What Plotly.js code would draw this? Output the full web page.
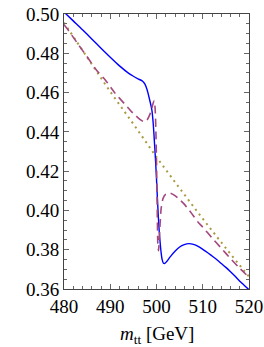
<!DOCTYPE html>
<html>
<head>
<meta charset="utf-8">
<script src="https://cdn.plot.ly/plotly-3.0.1.min.js"></script>
<style>html,body{margin:0;padding:0;background:#fff;}#chart{width:264px;height:347px;}</style>
</head>
<body>
<div id="chart"></div>
<script>
// Solid blue curve
var solidX = [480,482,484,486,488,490,492,494,495,496,497,497.5,498,498.5,499,499.3,499.6,499.8,500,500.2,500.4,500.6,500.8,501,501.2,501.5,501.8,502.2,503,504,505,506,507,508,509,510,511,512,513,514,515,516,517,518,519,520];
var solidY = [0.5010,0.4965,0.4920,0.4873,0.4826,0.4780,0.4736,0.4698,0.4683,0.4670,0.4658,0.4643,0.4612,0.4565,0.4511,0.4440,0.4330,0.4250,0.4160,0.4060,0.3968,0.3890,0.3833,0.3785,0.3752,0.3731,0.3730,0.3740,0.3765,0.3792,0.3814,0.3826,0.3831,0.3827,0.3817,0.3802,0.3786,0.3768,0.3750,0.3730,0.3710,0.3688,0.3665,0.3640,0.3618,0.3596];
// Dashed curve
var dashX = [480,481,483,485,487,489,491,493,494.5,495.5,496.5,497.2,497.9,498.5,499,499.3,499.5,499.7,499.85,500,500.15,500.3,500.45,500.7,501,501.4,502,503,504,505,506,507,508,509,510,512,514,516,518,520];
var dashY = [0.4945,0.4915,0.4848,0.4782,0.4715,0.4662,0.4598,0.4545,0.4505,0.4483,0.4462,0.4452,0.4458,0.4485,0.4522,0.4548,0.4560,0.4520,0.4420,0.4250,0.4020,0.3820,0.3795,0.3900,0.4010,0.4060,0.4083,0.4088,0.4075,0.4055,0.4032,0.4003,0.3972,0.3940,0.3915,0.3860,0.3808,0.3755,0.3705,0.3660];
// Dotted curve
var dotX = [480,485,490,495,500,505,510,515,520];
var dotY = [0.4956,0.4780,0.4605,0.4440,0.4272,0.4113,0.3958,0.3808,0.3663];

var xTicks = [480,490,500,510,520];
var yTicks = [0.36,0.38,0.40,0.42,0.44,0.46,0.48,0.50];
var xTitle = '<i>m</i><sub>tt</sub> [GeV]';

var serif = '"Liberation Serif", "Times New Roman", serif';

var traces = [
  {x: dotX, y: dotY, mode:'lines', line:{color:'#a89a40', width:2, dash:'2px,4px', shape:'spline'}, hoverinfo:'none'},
  {x: solidX, y: solidY, mode:'lines', line:{color:'#0000ff', width:1.4, shape:'spline', smoothing:0.6}, hoverinfo:'none'},
  {x: dashX, y: dashY, mode:'lines', line:{color:'#a3487d', width:1.6, dash:'8px,5px', shape:'spline', smoothing:0.5}, hoverinfo:'none'}
];

var axisCommon = {
  showgrid:false, zeroline:false, showline:true, linecolor:'#444', linewidth:1,
  mirror:'ticks', ticks:'inside', ticklen:5, tickcolor:'#666', tickwidth:1,
  tickfont:{family:serif, size:19, color:'#000'}
};

var layout = {
  width:264, height:347,
  margin:{l:64, r:15, t:14, b:58},
  paper_bgcolor:'#fff', plot_bgcolor:'#fff',
  showlegend:false,
  xaxis: Object.assign({}, axisCommon, {
    range:[480,520], tickvals:xTicks, ticktext:xTicks.map(String),
    minor:{dtick:2, ticks:'inside', ticklen:3, tickcolor:'#666', showgrid:false}
  }),
  yaxis: Object.assign({}, axisCommon, {
    range:[0.36,0.50], tickvals:yTicks, ticktext:yTicks.map(function(v){return v.toFixed(2);}),
    minor:{dtick:0.005, ticks:'inside', ticklen:3, tickcolor:'#666', showgrid:false}
  }),
  annotations:[{
    text:xTitle, xref:'paper', yref:'paper', x:0.5, y:-0.167,
    xanchor:'center', yanchor:'middle', showarrow:false,
    font:{family:serif, size:19, color:'#000'}
  }]
};

Plotly.newPlot('chart', traces, layout, {staticPlot:true, displayModeBar:false});
</script>
</body>
</html>
